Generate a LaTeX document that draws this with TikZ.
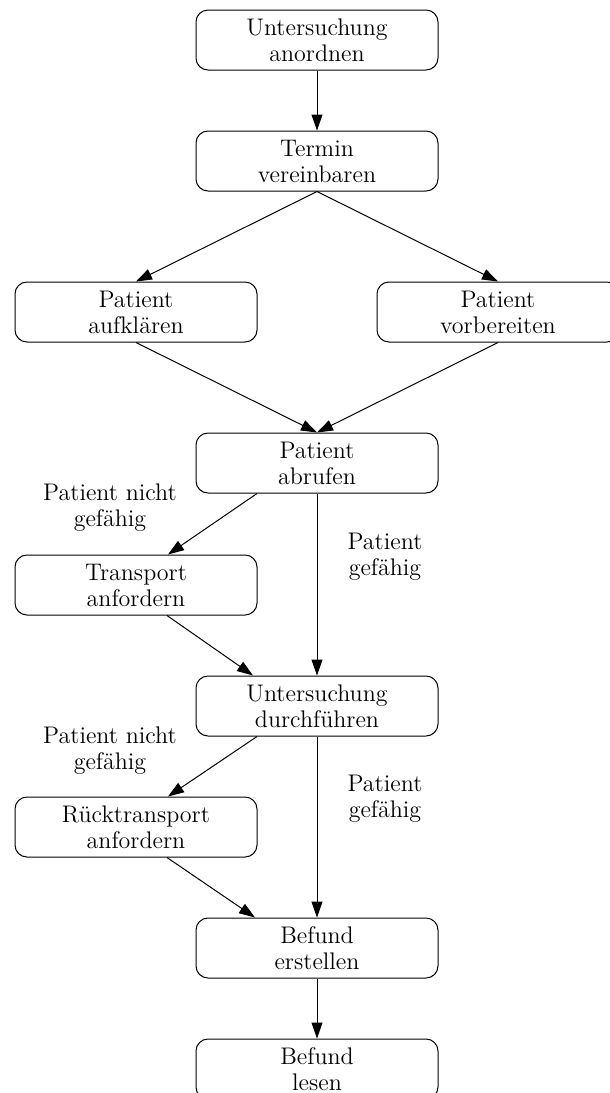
\documentclass[tikz,border=0pt]{standalone}
\usepackage{fontspec}
\usetikzlibrary{arrows.meta}

\tikzstyle{taskbox} = [draw, rectangle, rounded corners=6pt, line width=0.5pt, minimum width=121pt, minimum height=30pt, inner sep=1pt, align=center, font=\fontsize{12}{13}\selectfont]
\tikzstyle{condlabel} = [align=center, inner sep=0pt, font=\fontsize{12}{13}\selectfont]
\tikzstyle{flow} = [-{Triangle[length=8pt,width=5.5pt]}, line width=0.5pt]

\begin{document}
\begin{tikzpicture}[x=0.5pt,y=-0.5pt]
	\clip (0,0) rectangle (610,1093);

	% Ablauf der Untersuchung
	\node [taskbox] (anordnen) at (317,40) {Untersuchung\\anordnen};
	\node [taskbox] (termin) at (317,161) {Termin\\vereinbaren};
	\node [taskbox] (aufklaeren) at (136,312) {Patient\\aufklären};
	\node [taskbox] (vorbereiten) at (498,312) {Patient\\vorbereiten};
	\node [taskbox] (abrufen) at (317,463) {Patient\\abrufen};
	\node [taskbox] (transport) at (136,585) {Transport\\anfordern};
	\node [taskbox] (durchfuehren) at (317,706) {Untersuchung\\durchführen};
	\node [taskbox] (ruecktransport) at (136,827) {Rücktransport\\anfordern};
	\node [taskbox] (erstellen) at (317,948) {Befund\\erstellen};
	\node [taskbox] (lesen) at (317,1069) {Befund\\lesen};

	% Bedingungen
	\node [condlabel] (nichtfaehig1) at (110,508) {Patient nicht\\gefähig};
	\node [condlabel] (faehig1) at (385,557) {Patient\\gefähig};
	\node [condlabel] (nichtfaehig2) at (110,751) {Patient nicht\\gefähig};
	\node [condlabel] (faehig2) at (385,799) {Patient\\gefähig};

	% Kanten
	\draw [flow] (anordnen.south) -- (termin.north);
	\draw [flow] (termin.south) -- (aufklaeren.north);
	\draw [flow] (termin.south) -- (vorbereiten.north);
	\draw [flow] (aufklaeren.south) -- (abrufen.north);
	\draw [flow] (vorbereiten.south) -- (abrufen.north);
	\draw [flow] ([xshift=-30pt]abrufen.south) -- ([xshift=16pt]transport.north);
	\draw [flow] (abrufen.south) -- (durchfuehren.north);
	\draw [flow] ([xshift=15.5pt]transport.south) -- ([xshift=-32pt]durchfuehren.north);
	\draw [flow] ([xshift=-30pt]durchfuehren.south) -- ([xshift=16pt]ruecktransport.north);
	\draw [flow] (durchfuehren.south) -- (erstellen.north);
	\draw [flow] ([xshift=15.5pt]ruecktransport.south) -- ([xshift=-31pt]erstellen.north);
	\draw [flow] (erstellen.south) -- (lesen.north);
\end{tikzpicture}
\end{document}
